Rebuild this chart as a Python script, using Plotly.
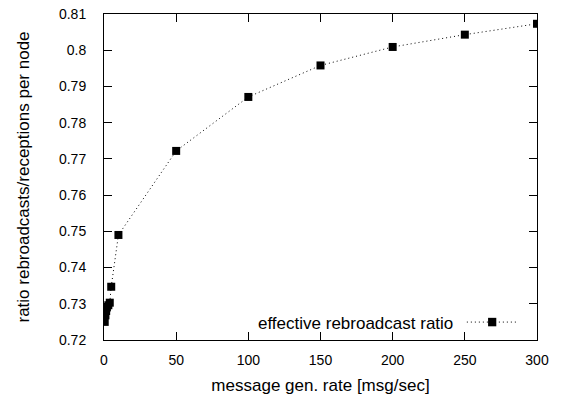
import plotly.graph_objects as go

rate = [0.5, 1, 1.5, 2, 3, 4, 5, 10, 50, 100, 150, 200, 250, 300]
ratio = [0.7250, 0.7268, 0.7280, 0.7290, 0.7296, 0.7303, 0.7347, 0.7490,
         0.7722, 0.7871, 0.7958, 0.8009, 0.8043, 0.8073]
x_ticks = [0, 50, 100, 150, 200, 250, 300]
y_ticks = [0.72, 0.73, 0.74, 0.75, 0.76, 0.77, 0.78, 0.79, 0.80, 0.81]
y_labels = ["0.72", "0.73", "0.74", "0.75", "0.76", "0.77", "0.78", "0.79", "0.8", "0.81"]
series_name = "effective rebroadcast ratio"

FONT = "Liberation Sans, Arial, Helvetica, sans-serif"

fig = go.Figure()
fig.add_trace(go.Scatter(
    x=rate, y=ratio, mode="lines+markers", name=series_name,
    line=dict(color="black", width=1, dash="1px,3px"),
    marker=dict(symbol="square", size=8, color="black"),
    showlegend=False,
))

# gnuplot-style legend (text, then sample on the right)
fig.add_annotation(xref="paper", yref="paper", x=0.81, y=0.052,
                   text=series_name, showarrow=False, xanchor="right",
                   yanchor="middle", font=dict(size=17, color="black", family=FONT))
fig.add_shape(type="line", xref="paper", yref="paper", x0=0.838, x1=0.956,
              y0=0.055, y1=0.055, line=dict(color="black", width=1, dash="1px,3px"))
fig.add_shape(type="rect", xref="paper", yref="paper", x0=0.887, x1=0.906,
              y0=0.042, y1=0.068, fillcolor="black", line=dict(width=0))

fig.update_layout(
    width=566, height=396,
    margin=dict(l=104, r=29, t=14, b=56, autoexpand=False),
    paper_bgcolor="white", plot_bgcolor="white",
    font=dict(family=FONT, size=14, color="black"),
    xaxis=dict(
        range=[0, 300], tickvals=x_ticks, ticks="inside", ticklen=8,
        tickcolor="black", showline=True, linecolor="black", linewidth=1,
        mirror="ticks", showgrid=False, zeroline=False, automargin=False,
        title=dict(text="message gen. rate [msg/sec]", standoff=12),
        ticklabelstandoff=7,
    ),
    yaxis=dict(
        range=[0.72, 0.81], tickvals=y_ticks, ticktext=y_labels, ticks="inside",
        ticklen=8, tickcolor="black", showline=True, linecolor="black",
        linewidth=1, mirror="ticks", showgrid=False, zeroline=False, automargin=False,
        title=dict(text="ratio rebroadcasts/receptions per node", standoff=25),
        ticklabelstandoff=14,
    ),
)

fig.write_html("out.html")
